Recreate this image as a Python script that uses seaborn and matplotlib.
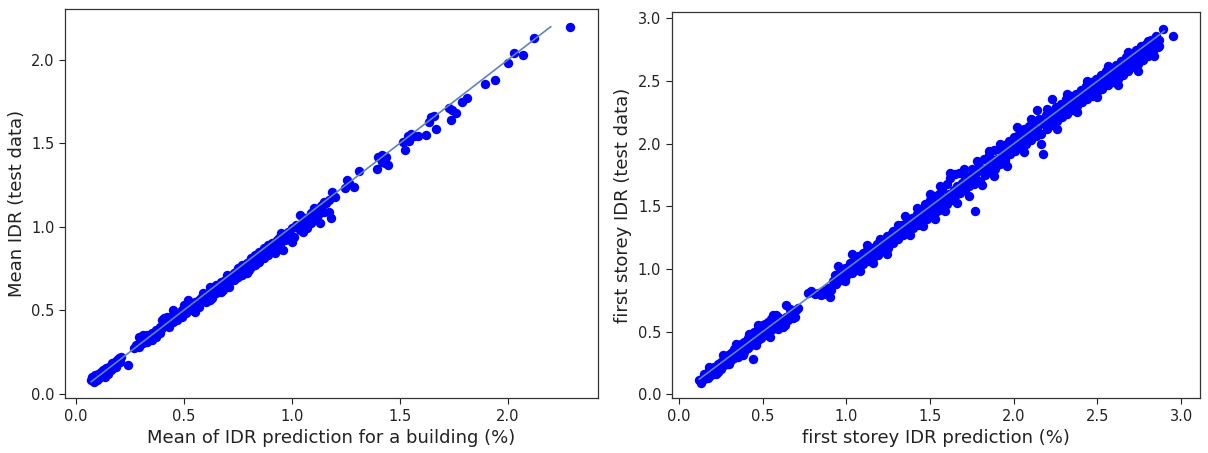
import matplotlib
matplotlib.use("Agg")
import matplotlib.pyplot as plt
import seaborn as sns
import numpy as np
import pandas as pd

# ---------------- data: left panel (mean IDR) ----------------
left_pred = [0.07, 0.075, 0.08, 0.085, 0.09, 0.095, 0.10, 0.10, 0.11, 0.115, 0.12, 0.125, 0.13, 0.135,
             0.14, 0.145, 0.15, 0.155, 0.16, 0.165, 0.17, 0.175, 0.18, 0.185, 0.19, 0.195, 0.20, 0.205,
             0.21, 0.24,
             0.27, 0.28, 0.29, 0.29, 0.30, 0.31, 0.31, 0.32, 0.33, 0.33, 0.34, 0.35, 0.35, 0.36, 0.37,
             0.37, 0.38, 0.39, 0.39, 0.40, 0.40, 0.41, 0.42, 0.42, 0.43, 0.43, 0.44, 0.45, 0.45, 0.46,
             0.47, 0.47, 0.48, 0.49, 0.49, 0.50, 0.50, 0.51, 0.52, 0.52, 0.53, 0.54, 0.55, 0.55, 0.56,
             0.57, 0.57, 0.58, 0.59, 0.60, 0.60, 0.61, 0.62, 0.62, 0.63, 0.64, 0.65, 0.65, 0.66, 0.67,
             0.67, 0.68, 0.69, 0.70, 0.70, 0.71, 0.72, 0.73, 0.73, 0.74, 0.75, 0.75, 0.76, 0.77, 0.77,
             0.78, 0.79, 0.79, 0.80, 0.81, 0.81, 0.82, 0.83, 0.83, 0.84, 0.85, 0.85, 0.86, 0.87, 0.87,
             0.88, 0.89, 0.89, 0.90, 0.90, 0.91, 0.92, 0.93, 0.93, 0.94, 0.95, 0.95, 0.96, 0.97, 0.98,
             0.99, 1.00, 1.00, 1.01, 1.02, 1.03, 1.04, 1.04, 1.05, 1.06, 1.07, 1.08, 1.09, 1.10, 1.10,
             1.11, 1.12, 1.13, 1.13, 1.14, 1.15, 1.15,
             1.187, 1.202, 1.172, 1.157, 1.134, 1.103,
             1.255, 1.263, 1.29, 1.248, 1.309,
             1.40, 1.416, 1.438, 1.393, 1.431, 1.416, 1.446,
             1.515, 1.553, 1.568, 1.538, 1.523, 1.583, 1.545, 1.62, 1.644, 1.657, 1.637, 1.67,
             1.73, 1.74, 1.736, 1.76, 1.79, 1.81, 1.895, 1.94, 2.00, 2.03, 2.07, 2.12, 2.29,
             0.45, 0.55, 0.62, 0.68, 0.74, 0.80, 0.84, 0.92, 0.96, 1.05, 1.09, 1.17, 1.18]
left_true = [0.08, 0.10, 0.09, 0.07, 0.11, 0.08, 0.12, 0.09, 0.10, 0.13, 0.11, 0.14, 0.12, 0.10,
             0.15, 0.13, 0.12, 0.16, 0.14, 0.18, 0.15, 0.17, 0.19, 0.16, 0.20, 0.18, 0.21, 0.19,
             0.22, 0.17,
             0.27, 0.29, 0.28, 0.34, 0.31, 0.30, 0.35, 0.33, 0.31, 0.35, 0.34, 0.32, 0.36, 0.35, 0.34,
             0.38, 0.37, 0.36, 0.40, 0.39, 0.44, 0.45, 0.41, 0.46, 0.42, 0.40, 0.44, 0.43, 0.47, 0.45,
             0.44, 0.48, 0.47, 0.46, 0.50, 0.49, 0.53, 0.48, 0.51, 0.56, 0.50, 0.53, 0.55, 0.49, 0.54,
             0.56, 0.52, 0.57, 0.60, 0.58, 0.55, 0.60, 0.59, 0.64, 0.57, 0.62, 0.65, 0.60, 0.63, 0.67,
             0.61, 0.66, 0.68, 0.66, 0.71, 0.64, 0.70, 0.72, 0.68, 0.73, 0.70, 0.75, 0.74, 0.71, 0.77,
             0.75, 0.78, 0.72, 0.79, 0.76, 0.81, 0.80, 0.77, 0.83, 0.82, 0.79, 0.85, 0.84, 0.81, 0.87,
             0.86, 0.83, 0.89, 0.88, 0.85, 0.90, 0.89, 0.86, 0.92, 0.93, 0.91, 0.96, 0.94, 0.92, 0.97,
             0.95, 0.99, 0.91, 0.94, 1.01, 1.00, 1.07, 0.98, 1.03, 1.05, 0.99, 1.06, 1.08, 1.05, 1.09,
             1.10, 1.07, 1.02, 1.11, 1.13, 1.09, 1.15,
             1.211, 1.181, 1.162, 1.142, 1.122, 1.112,
             1.281, 1.262, 1.241, 1.232, 1.337,
             1.421, 1.431, 1.421, 1.346, 1.381, 1.391, 1.371,
             1.505, 1.557, 1.541, 1.545, 1.461, 1.545, 1.511, 1.55, 1.657, 1.665, 1.625, 1.585,
             1.71, 1.70, 1.64, 1.68, 1.75, 1.77, 1.856, 1.88, 1.98, 2.04, 2.03, 2.13, 2.20,
             0.50, 0.52, 0.56, 0.62, 0.69, 0.74, 0.78, 0.84, 0.86, 0.97, 1.02, 1.09, 1.05]
left_line = [0.07, 2.2]

# ---------------- data: right panel (first storey IDR) ----------------
right_pred = [0.12, 0.13, 0.14, 0.15, 0.15, 0.16, 0.17, 0.17, 0.18, 0.19, 0.19, 0.20, 0.21, 0.21,
              0.22, 0.23, 0.23, 0.24, 0.25, 0.25, 0.26, 0.27, 0.27, 0.28, 0.29, 0.29, 0.30, 0.31,
              0.31, 0.32, 0.33, 0.33, 0.34, 0.35, 0.35, 0.36, 0.37, 0.37, 0.38, 0.39, 0.39, 0.40,
              0.41, 0.41, 0.42, 0.43, 0.43, 0.44, 0.44, 0.45, 0.45, 0.46, 0.47, 0.47, 0.48, 0.49,
              0.49, 0.50, 0.51, 0.51, 0.52, 0.53, 0.53, 0.54, 0.55, 0.55, 0.56, 0.57, 0.57, 0.58,
              0.59, 0.59, 0.60, 0.61, 0.62, 0.63, 0.64, 0.64, 0.65, 0.66, 0.67, 0.68, 0.70, 0.71,
              0.77, 0.79, 0.81, 0.83, 0.85, 0.86, 0.88, 0.90, 0.91, 0.89,
              0.92, 0.93, 0.94, 0.95, 0.96, 0.97, 0.98, 0.99, 1.00, 1.01, 1.02, 1.03, 1.04, 1.05,
              1.05, 1.06, 1.07, 1.08, 1.09, 1.10, 1.10, 1.11, 1.12, 1.13, 1.14, 1.15, 1.16, 1.17,
              1.18, 1.19, 1.20, 1.21, 1.22, 1.23, 1.24, 1.25, 1.26, 1.27, 1.28, 1.29,
              1.30, 1.31, 1.32, 1.33, 1.34, 1.35, 1.36, 1.37, 1.38, 1.39, 1.40, 1.41, 1.42, 1.43,
              1.44, 1.45, 1.45, 1.46, 1.47, 1.48, 1.49, 1.50, 1.50, 1.51, 1.52, 1.53, 1.54, 1.55,
              1.55, 1.56, 1.57, 1.58, 1.59, 1.60, 1.60, 1.61, 1.62, 1.63, 1.64, 1.65, 1.65, 1.66,
              1.67, 1.68, 1.69, 1.70, 1.71, 1.72, 1.73, 1.74, 1.75, 1.76, 1.77, 1.77, 1.78, 1.79,
              1.80, 1.81, 1.82, 1.83, 1.84, 1.85, 1.86, 1.87, 1.88, 1.89, 1.90, 1.91, 1.92, 1.93,
              1.94, 1.95, 1.96, 1.97, 1.98, 1.99,
              2.00, 2.01, 2.02, 2.03, 2.04, 2.05, 2.06, 2.07, 2.08, 2.09, 2.10, 2.11, 2.12, 2.13,
              2.14, 2.14, 2.15, 2.16, 2.175, 2.18, 2.19, 2.20, 2.21, 2.22, 2.23, 2.23, 2.24, 2.25,
              2.26, 2.27, 2.28, 2.29, 2.30, 2.31, 2.32, 2.33, 2.34, 2.35, 2.36, 2.37, 2.38, 2.39,
              2.40, 2.41, 2.42, 2.43, 2.44, 2.45, 2.46, 2.47, 2.48, 2.49, 2.50, 2.51, 2.52, 2.53,
              2.54, 2.55, 2.56, 2.57, 2.58, 2.59, 2.60, 2.61, 2.62, 2.63, 2.64, 2.65, 2.66, 2.67,
              2.68, 2.69, 2.70, 2.71, 2.72, 2.73, 2.74, 2.75, 2.76, 2.77, 2.78, 2.79, 2.80, 2.81,
              2.82, 2.83, 2.84, 2.85, 2.86, 2.87, 2.89, 2.95,
              0.18, 0.22, 0.26, 0.30, 0.34, 0.38, 0.42, 0.46, 0.50, 0.54, 0.58, 0.62, 0.66, 0.69,
              0.56, 0.47,
              0.95, 0.99, 1.03, 1.08, 1.12, 1.16, 1.20, 1.24, 1.28, 1.31,
              1.35, 1.38, 1.42, 1.46, 1.50, 1.53, 1.56, 1.59, 1.62, 1.66, 1.70, 1.73, 1.78, 1.81,
              1.85, 1.88, 1.92, 1.96,
              2.02, 2.06, 2.10, 2.16, 2.20, 2.26, 2.32, 2.38, 2.44, 2.50, 2.56, 2.62, 2.68, 2.74,
              2.80, 2.84, 2.87]
right_true = [0.11, 0.09, 0.13, 0.16, 0.12, 0.14, 0.18, 0.13, 0.17, 0.20, 0.15, 0.19, 0.22, 0.17,
              0.21, 0.24, 0.18, 0.22, 0.26, 0.20, 0.25, 0.29, 0.23, 0.27, 0.31, 0.24, 0.28, 0.33,
              0.27, 0.30, 0.36, 0.29, 0.32, 0.38, 0.30, 0.34, 0.40, 0.33, 0.36, 0.42, 0.34, 0.38,
              0.45, 0.37, 0.40, 0.47, 0.39, 0.28, 0.42, 0.50, 0.41, 0.44, 0.52, 0.43, 0.46, 0.54,
              0.45, 0.48, 0.56, 0.47, 0.50, 0.58, 0.48, 0.52, 0.60, 0.51, 0.55, 0.62, 0.53, 0.56,
              0.62, 0.52, 0.58, 0.57, 0.60, 0.55, 0.71, 0.62, 0.59, 0.64, 0.66, 0.61, 0.67, 0.69,
              0.81, 0.82, 0.80, 0.81, 0.79, 0.82, 0.80, 0.78, 0.83, 0.85,
              0.90, 0.95, 0.88, 0.93, 0.98, 0.91, 0.96, 1.01, 0.94, 0.99, 1.05, 0.97, 1.02, 1.08,
              0.99, 1.04, 1.10, 1.02, 1.07, 1.13, 1.04, 1.09, 1.15, 1.06, 1.11, 1.17, 1.09, 1.14,
              1.20, 1.11, 1.17, 1.23, 1.14, 1.19, 1.26, 1.17, 1.22, 1.29, 1.21, 1.25,
              1.31, 1.24, 1.29, 1.35, 1.27, 1.32, 1.38, 1.30, 1.35, 1.41, 1.33, 1.38, 1.44, 1.35,
              1.41, 1.48, 1.37, 1.43, 1.52, 1.40, 1.46, 1.55, 1.43, 1.49, 1.58, 1.45, 1.52, 1.60,
              1.47, 1.54, 1.64, 1.50, 1.57, 1.68, 1.52, 1.60, 1.73, 1.55, 1.63, 1.76, 1.58, 1.66,
              1.77, 1.61, 1.69, 1.75, 1.63, 1.71, 1.66, 1.74, 1.80, 1.68, 1.46, 1.76, 1.71, 1.82,
              1.70, 1.78, 1.88, 1.75, 1.81, 1.91, 1.78, 1.85, 1.95, 1.80, 1.88, 1.96, 1.84, 1.91,
              1.99, 1.87, 1.94, 2.02, 1.92, 1.97,
              2.05, 1.94, 2.00, 2.08, 1.97, 2.03, 2.12, 2.00, 2.06, 2.14, 2.03, 2.09, 2.18, 2.06,
              2.27, 2.12, 2.20, 2.08, 1.92, 2.16, 2.23, 2.12, 2.19, 2.26, 2.36, 2.15, 2.22, 2.29,
              2.18, 2.25, 2.32, 2.21, 2.28, 2.36, 2.24, 2.31, 2.38, 2.27, 2.34, 2.40, 2.30, 2.37,
              2.43, 2.33, 2.39, 2.46, 2.36, 2.42, 2.49, 2.38, 2.45, 2.52, 2.41, 2.48, 2.55, 2.44,
              2.50, 2.58, 2.47, 2.53, 2.60, 2.49, 2.56, 2.63, 2.52, 2.59, 2.66, 2.55, 2.62, 2.69,
              2.58, 2.65, 2.72, 2.61, 2.68, 2.75, 2.64, 2.71, 2.78, 2.67, 2.74, 2.80, 2.70, 2.77,
              2.83, 2.74, 2.80, 2.86, 2.77, 2.83, 2.92, 2.86,
              0.22, 0.16, 0.31, 0.24, 0.40, 0.31, 0.48, 0.39, 0.55, 0.46, 0.63, 0.54, 0.68, 0.62,
              0.63, 0.55,
              1.02, 0.90, 1.12, 0.98, 1.19, 1.05, 1.24, 1.12, 1.30, 1.35,
              1.42, 1.27, 1.49, 1.34, 1.60, 1.40, 1.66, 1.46, 1.77, 1.53, 1.80, 1.58, 1.86, 1.67,
              1.94, 1.74, 2.00, 1.82,
              2.13, 1.93, 2.20, 2.00, 2.28, 2.12, 2.40, 2.25, 2.50, 2.37, 2.62, 2.47, 2.73, 2.58,
              2.82, 2.70, 2.78]
right_line = [0.12, 2.9]

left_xlabel = "Mean of IDR prediction for a building (%)"
left_ylabel = "Mean IDR (test data)"
right_xlabel = "first storey IDR prediction (%)"
right_ylabel = "first storey IDR (test data)"
left_ticks = [0.0, 0.5, 1.0, 1.5, 2.0]
right_ticks = [0.0, 0.5, 1.0, 1.5, 2.0, 2.5, 3.0]

# ---------------- plotting ----------------
sns.set_style("ticks")
plt.rcParams['font.family'] = ['DejaVu Sans']

fig = plt.figure(figsize=(12.08, 4.53), dpi=100)
ax1 = fig.add_axes([0.0538, 0.121, 0.441, 0.859])
ax2 = fig.add_axes([0.556, 0.121, 0.437, 0.852])

dot_color = "#0000ff"
line_color = "#5f86b6"

dfl = pd.DataFrame({"pred": left_pred, "true": left_true})
dfr = pd.DataFrame({"pred": right_pred, "true": right_true})

sns.scatterplot(data=dfl, x="pred", y="true", ax=ax1, color=dot_color, s=46, linewidth=0, zorder=2)
sns.lineplot(x=left_line, y=left_line, ax=ax1, color=line_color, linewidth=1.2, zorder=3)
sns.scatterplot(data=dfr, x="pred", y="true", ax=ax2, color=dot_color, s=46, linewidth=0, zorder=2)
sns.lineplot(x=right_line, y=right_line, ax=ax2, color=line_color, linewidth=1.2, zorder=3)

ax1.set_xlim(-0.051, 2.417)
ax1.set_ylim(-0.028, 2.305)
ax1.set_xticks(left_ticks)
ax1.set_yticks(left_ticks)
ax2.set_xlim(-0.045, 3.11)
ax2.set_ylim(-0.032, 3.05)
ax2.set_xticks(right_ticks)
ax2.set_yticks(right_ticks)

for ax, xl, yl in [(ax1, left_xlabel, left_ylabel), (ax2, right_xlabel, right_ylabel)]:
    ax.set_xlabel(xl, fontsize=13, color="#222222", labelpad=4)
    ax.set_ylabel(yl, fontsize=13, color="#222222", labelpad=4)
    ax.tick_params(axis="both", labelsize=10.5, colors="#222222", length=4, width=0.8)
    for sp in ax.spines.values():
        sp.set_visible(True)
        sp.set_color("#333333")
        sp.set_linewidth(0.9)

fig.savefig("out.png", dpi=100, facecolor="white")
